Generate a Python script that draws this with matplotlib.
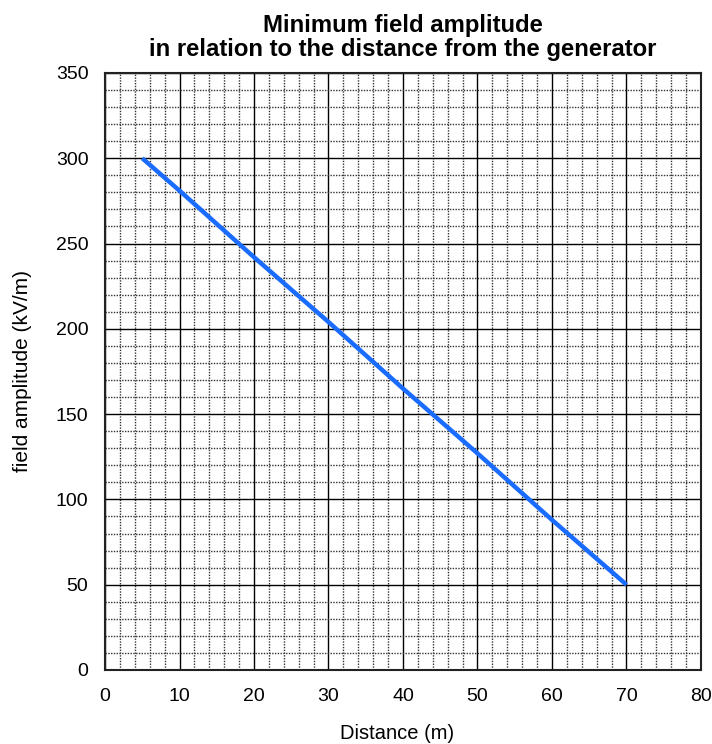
import numpy as np
import matplotlib
matplotlib.use("Agg")
import matplotlib.pyplot as plt
from matplotlib.ticker import MultipleLocator

# Data
distance = [5, 10, 20, 30, 40, 50, 60, 70]
amplitude = [300, 281, 242, 204, 165, 127, 88, 50]

x_ticks = [0, 10, 20, 30, 40, 50, 60, 70, 80]
y_ticks = [0, 50, 100, 150, 200, 250, 300, 350]

plt.rcParams['font.family'] = ['Liberation Sans', 'DejaVu Sans']

fig = plt.figure(figsize=(7.12, 7.44), dpi=100)
ax = fig.add_axes([0.1475, 0.0995, 0.837, 0.8024])

ax.set_xlim(0, 80)
ax.set_ylim(0, 350)
ax.set_xticks(x_ticks)
ax.set_yticks(y_ticks)
ax.xaxis.set_minor_locator(MultipleLocator(2))
ax.yaxis.set_minor_locator(MultipleLocator(10))

ax.grid(which='major', color='black', linewidth=1.0, linestyle='-')
ax.grid(which='minor', color='#333333', linewidth=1.0, linestyle=(0, (1, 1)))
ax.set_axisbelow(True)

ax.plot(distance, amplitude, color='#1a6cff', linewidth=3.2, solid_capstyle='butt', zorder=3)

for s in ax.spines.values():
    s.set_linewidth(1.5)
    s.set_color('#222222')

ax.tick_params(axis='x', which='both', length=0, labelsize=14, pad=13)
ax.tick_params(axis='y', which='both', length=0, labelsize=14, pad=12)
ax.set_xlabel('Distance (m)', fontsize=14.5)
ax.set_ylabel('field amplitude (kV/m)', fontsize=15)
ax.xaxis.set_label_coords(0.49, -0.09)
ax.yaxis.set_label_coords(-0.122, 0.5)
ax.set_title('Minimum field amplitude\nin relation to the distance from the generator',
             fontsize=17.2, fontweight='bold', pad=12, linespacing=1.05)

fig.savefig('out.png', dpi=100)
